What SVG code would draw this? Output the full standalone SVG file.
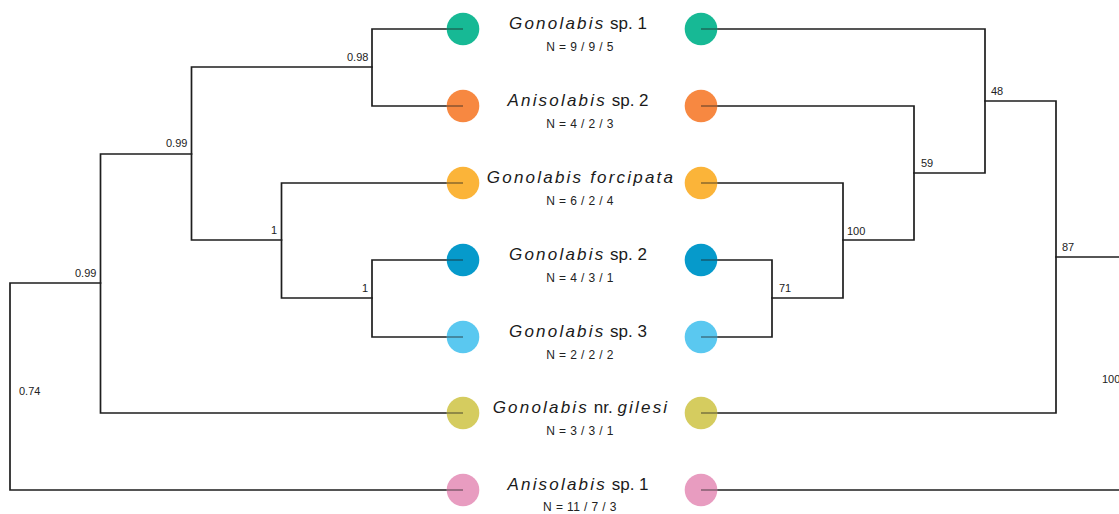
<svg xmlns="http://www.w3.org/2000/svg" width="1119" height="514" viewBox="0 0 1119 514">
<style>
.br{fill:none;stroke:#1e1e1e;stroke-width:1.7;stroke-linecap:square}
.stub{stroke:#1e1e1e;stroke-width:1.7;stroke-opacity:0.5}
.sup{font-family:"Liberation Sans",Arial,sans-serif;font-size:11px;fill:#222}
.sp{font-family:"Liberation Sans",Arial,sans-serif;font-size:17px;fill:#1a1a1a;text-anchor:middle}
.g{font-style:italic;letter-spacing:2.2px}
.n{font-family:"Liberation Sans",Arial,sans-serif;font-size:12px;fill:#222;text-anchor:middle;letter-spacing:0.4px}
</style>
<rect width="1119" height="514" fill="#ffffff"/>
<g id="connectors">
<path class="br" d="M447,29 H372 V106 H447"/>
<path class="br" d="M372,67 H191.5 V240 H281.5"/>
<path class="br" d="M447,183 H281.5 V298 H372"/>
<path class="br" d="M447,260 H372 V337 H447"/>
<path class="br" d="M191.5,154 H100.5 V413 H447"/>
<path class="br" d="M100.5,283 H10 V490 H447"/>
<path class="br" d="M717,29 H985 V173 H914"/>
<path class="br" d="M717,106 H914 V240 H843"/>
<path class="br" d="M717,183 H843 V298 H772"/>
<path class="br" d="M717,260 H772 V337 H717"/>
<path class="br" d="M985,101 H1056 V413 H717"/>
<path class="br" d="M1056,257 H1120"/>
<path class="br" d="M717,490 H1120"/>
</g>
<g id="support-labels" class="sup">
<text x="347" y="61">0.98</text>
<text x="166" y="147">0.99</text>
<text x="271" y="234">1</text>
<text x="362" y="292">1</text>
<text x="75" y="277">0.99</text>
<text x="19" y="395">0.74</text>
<text x="991" y="95">48</text>
<text x="921" y="167">59</text>
<text x="847" y="235">100</text>
<text x="779" y="292">71</text>
<text x="1062" y="251">87</text>
<text x="1102" y="383">100</text>
</g>
<g id="node-gonolabis-sp1">
<circle cx="463" cy="29" r="16.3" fill="#17b995"/>
<circle cx="701" cy="29" r="16.3" fill="#17b995"/>
<path class="stub" d="M447,29 H463 M701,29 H717"/>
<text class="sp" x="578" y="29"><tspan class="g">Gonolabis</tspan> sp. 1</text>
<text class="n" x="580" y="51">N = 9 / 9 / 5</text>
</g>
<g id="node-anisolabis-sp2">
<circle cx="463" cy="106" r="16.3" fill="#f78841"/>
<circle cx="701" cy="106" r="16.3" fill="#f78841"/>
<path class="stub" d="M447,106 H463 M701,106 H717"/>
<text class="sp" x="578" y="106"><tspan class="g">Anisolabis</tspan> sp. 2</text>
<text class="n" x="580" y="128">N = 4 / 2 / 3</text>
</g>
<g id="node-gonolabis-forcipata">
<circle cx="463" cy="183" r="16.3" fill="#fbb439"/>
<circle cx="701" cy="183" r="16.3" fill="#fbb439"/>
<path class="stub" d="M447,183 H463 M701,183 H717"/>
<text class="sp" x="581" y="183"><tspan class="g">Gonolabis forcipata</tspan></text>
<text class="n" x="580" y="205">N = 6 / 2 / 4</text>
</g>
<g id="node-gonolabis-sp2">
<circle cx="463" cy="260" r="16.3" fill="#069acb"/>
<circle cx="701" cy="260" r="16.3" fill="#069acb"/>
<path class="stub" d="M447,260 H463 M701,260 H717"/>
<text class="sp" x="578" y="260"><tspan class="g">Gonolabis</tspan> sp. 2</text>
<text class="n" x="580" y="282">N = 4 / 3 / 1</text>
</g>
<g id="node-gonolabis-sp3">
<circle cx="463" cy="337" r="16.3" fill="#5ac8f0"/>
<circle cx="701" cy="337" r="16.3" fill="#5ac8f0"/>
<path class="stub" d="M447,337 H463 M701,337 H717"/>
<text class="sp" x="578" y="337"><tspan class="g">Gonolabis</tspan> sp. 3</text>
<text class="n" x="580" y="359">N = 2 / 2 / 2</text>
</g>
<g id="node-gonolabis-gilesi">
<circle cx="463" cy="413" r="16.3" fill="#d5cc5f"/>
<circle cx="701" cy="413" r="16.3" fill="#d5cc5f"/>
<path class="stub" d="M447,413 H463 M701,413 H717"/>
<text class="sp" x="581" y="413"><tspan class="g">Gonolabis</tspan> nr. <tspan class="g">gilesi</tspan></text>
<text class="n" x="580" y="435">N = 3 / 3 / 1</text>
</g>
<g id="node-anisolabis-sp1">
<circle cx="463" cy="490" r="16.3" fill="#e89cc0"/>
<circle cx="701" cy="490" r="16.3" fill="#e89cc0"/>
<path class="stub" d="M447,490 H463 M701,490 H717"/>
<text class="sp" x="578" y="490"><tspan class="g">Anisolabis</tspan> sp. 1</text>
<text class="n" x="580" y="511">N = 11 / 7 / 3</text>
</g>
</svg>
